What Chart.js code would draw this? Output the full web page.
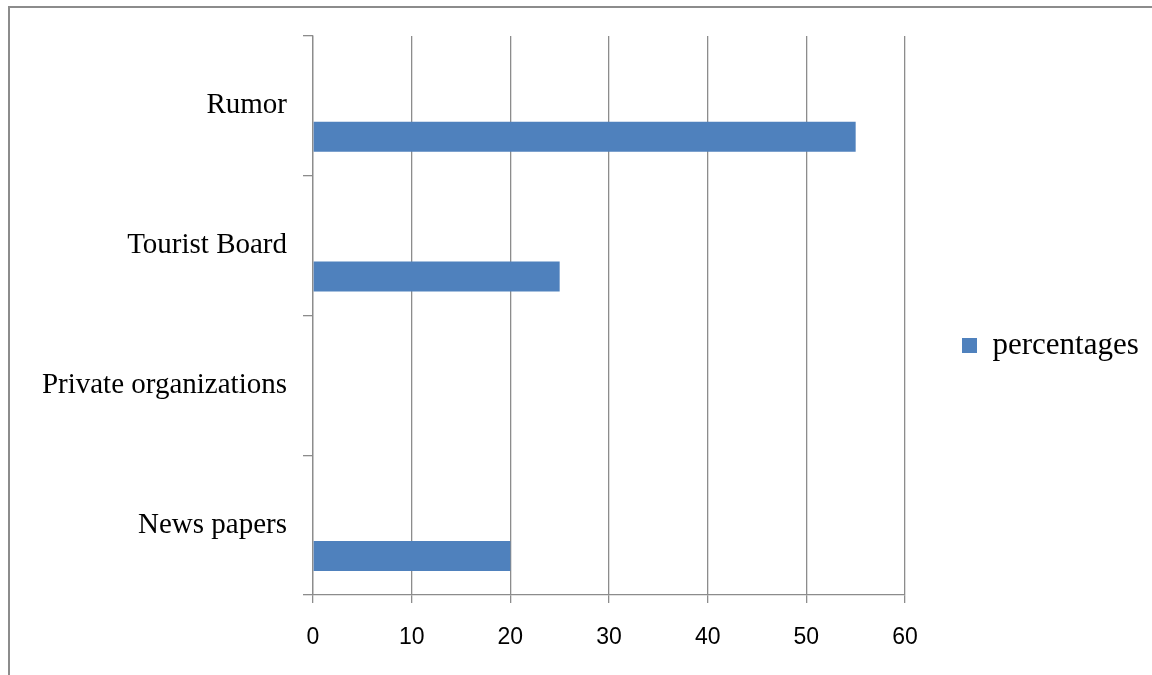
<!DOCTYPE html>
<html>
<head>
<meta charset="utf-8">
<script src="https://cdn.jsdelivr.net/npm/chart.js@4"></script>
<style>
  html, body { margin: 0; padding: 0; background: #fff; overflow: hidden; }
  #wrap { position: relative; width: 1152px; height: 675px; }
  #frame { position: absolute; left: 8px; top: 6px; width: 1200px; height: 700px;
           border-left: 2px solid #8c8c8c; border-top: 2px solid #8c8c8c; pointer-events: none; }
</style>
</head>
<body>
<div id="wrap">
  <canvas id="chart"></canvas>
  <div id="frame"></div>
</div>
<script>
const categories = ["Rumor", "Tourist Board", "Private organizations", "News papers"];
const percentages = [55, 25, 0, 20];
const emptySeries = [null, null, null, null];
const xMin = 0, xMax = 60, xStep = 10;

const gridColor = "#8c8c8c";
const barColor = "#4f81bd";

// legend box sits at a fixed spot to the right of the plot
const legendWidth = {
  id: "legendWidth",
  afterInit(chart) {
    const lg = chart.legend;
    const fit = lg.fit;
    const draw = lg.draw;
    lg.fit = function () { fit.call(this); this.width = 247; };
    lg.draw = function () {
      this.ctx.save();
      this.ctx.translate(0, -10);
      draw.call(this);
      this.ctx.restore();
    };
  }
};

const ctx = document.getElementById("chart").getContext("2d");
new Chart(ctx, {
  type: "bar",
  data: {
    labels: categories,
    datasets: [
      { label: "", data: emptySeries, backgroundColor: barColor },
      { label: "percentages", data: percentages, backgroundColor: barColor }
    ]
  },
  options: {
    indexAxis: "y",
    responsive: true,
    maintainAspectRatio: false,
    animation: false,
    categoryPercentage: 0.887,
    barPercentage: 0.484,
    layout: { padding: { top: 36, left: 0, right: 0, bottom: 0 } },
    plugins: {
      tooltip: { enabled: false },
      legend: {
        position: "right",
        labels: {
          filter: item => item.text === "percentages",
          boxWidth: 15,
          boxHeight: 15,
          padding: 57,
          color: "#000",
          font: { family: "'Liberation Serif', 'Times New Roman', serif", size: 31 }
        }
      }
    },
    scales: {
      x: {
        min: xMin,
        max: xMax,
        ticks: {
          stepSize: xStep,
          color: "#000",
          padding: 21,
          font: { family: "'Liberation Sans', Arial, sans-serif", size: 23 }
        },
        grid: { color: gridColor, tickLength: 8, lineWidth: 1.3 },
        border: { color: gridColor, width: 1.3 },
        afterFit(scale) { scale.height = 80; }
      },
      y: {
        ticks: {
          color: "#000",
          padding: 16,
          font: { family: "'Liberation Serif', 'Times New Roman', serif", size: 29 }
        },
        grid: { drawOnChartArea: false, color: gridColor, tickLength: 10, lineWidth: 1.3 },
        border: { color: gridColor, width: 1.3 },
        afterFit(scale) { scale.width = 313; }
      }
    }
  },
  plugins: [legendWidth]
});
</script>
</body>
</html>
